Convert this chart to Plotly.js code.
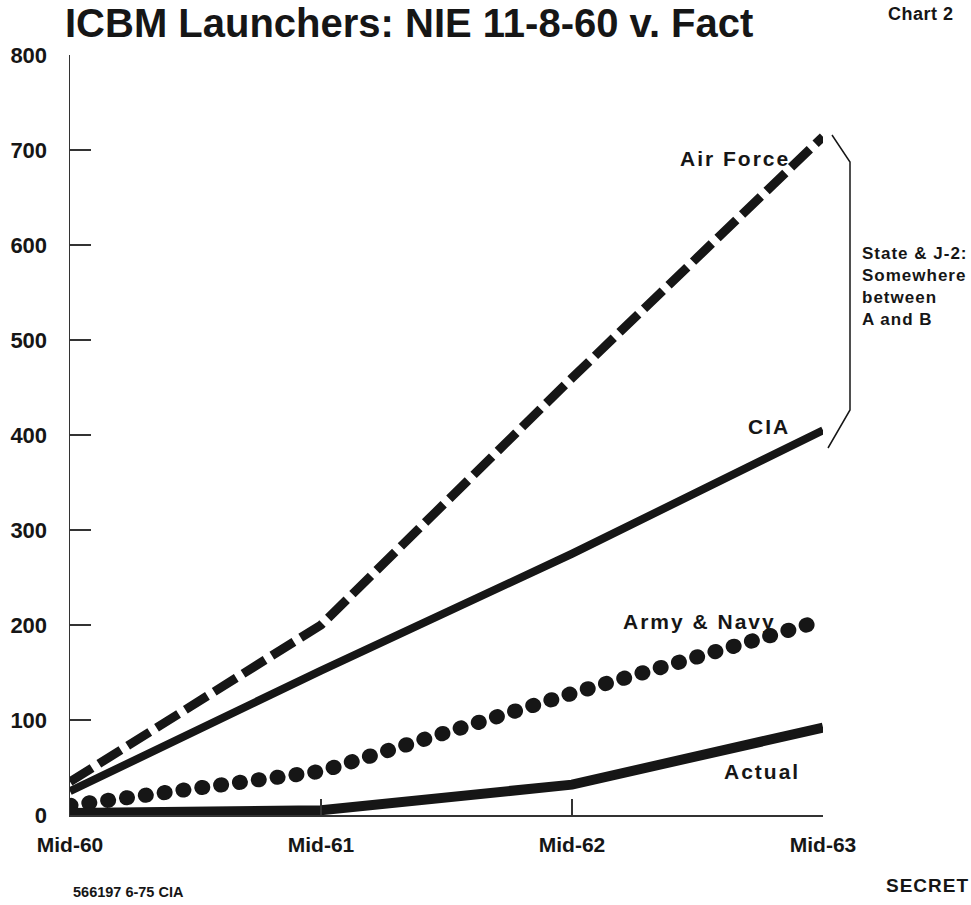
<!DOCTYPE html>
<html>
<head>
<meta charset="utf-8">
<script src="https://cdn.plot.ly/plotly-3.0.1.min.js"></script>
<style>
  html, body { margin: 0; padding: 0; background: #fff; }
  #chart { width: 971px; height: 905px; }
  g.annotation text.annotation-text { letter-spacing: 2px; }
  g.annotation[data-index="4"] text.annotation-text { letter-spacing: 1px; }
  g.annotation[data-index="5"] text.annotation-text { letter-spacing: 0.5px; }
  g.annotation[data-index="6"] text.annotation-text { letter-spacing: 0px; }
  g.annotation[data-index="7"] text.annotation-text { letter-spacing: 1px; }
</style>
</head>
<body>
<div id="chart"></div>
<script>
// ---- data ----
const periods   = ['Mid-60', 'Mid-61', 'Mid-62', 'Mid-63'];
const airForce  = [35, 200, 460, 714];
const cia       = [25, 152, 275, 405];
const armyNavy  = [10, 46, 128, 205];
const actual    = [2, 5, 32, 92];
const yTicks    = [0, 100, 200, 300, 400, 500, 600, 700, 800];

// ---- layout geometry (pixels) ----
const W = 971, H = 905;
const M = { l: 70, r: 148, t: 55, b: 90 };
const PW = W - M.l - M.r, PH = H - M.t - M.b;
const px = x => (x - M.l) / PW;
const py = y => (H - M.b - y) / PH;

const FONT = 'Liberation Sans, Arial, Helvetica, sans-serif';
const INK = '#161616';

const traces = [
  { name: 'Air Force', x: periods, y: airForce, mode: 'lines',
    line: { color: INK, width: 9, dash: '26px,8px' } },
  { name: 'CIA', x: periods, y: cia, mode: 'lines',
    line: { color: INK, width: 8 } },
  { name: 'Army & Navy', x: periods, y: armyNavy, mode: 'lines',
    line: { color: INK, width: 15, dash: '1px,18px' } },
  { name: 'Actual', x: periods, y: actual, mode: 'lines',
    line: { color: INK, width: 10 } }
];

function lbl(text, xPix, yPix, size, extra) {
  return Object.assign({
    text: text, xref: 'paper', yref: 'paper', x: px(xPix), y: py(yPix),
    xanchor: 'left', yanchor: 'middle', showarrow: false, align: 'left',
    font: { family: FONT, size: size, weight: 'bold', color: INK }
  }, extra || {});
}

const annotations = [
  lbl('Air Force', 678, 158, 21),
  lbl('CIA', 746, 426, 21),
  lbl('Army &amp; Navy', 621, 621, 21),
  lbl('Actual', 722, 771, 21),
  lbl('State &amp; J-2:<br>Somewhere<br>between<br>A and B', 860, 286, 17),
  lbl('Chart 2', 886, 14, 18),
  lbl('566197 6-75 CIA', 71, 892, 14.5),
  lbl('SECRET', 884, 886, 19)
];

const bracePts = [[832, 135], [850, 162], [850, 410], [828, 448]];
const bracePath = bracePts.map((p, i) => (i ? 'L' : 'M') + px(p[0]) + ',' + py(p[1])).join(' ');

const layout = {
  width: W, height: H,
  margin: M,
  paper_bgcolor: '#fff', plot_bgcolor: '#fff',
  showlegend: false,
  title: {
    text: 'ICBM Launchers: NIE 11-8-60 v. Fact',
    font: { family: FONT, size: 40, weight: 'bold', color: INK },
    xref: 'container', x: 65 / W, xanchor: 'left',
    yref: 'container', y: 1 - 23 / H, yanchor: 'middle'
  },
  xaxis: {
    type: 'category', range: [0, 3],
    showgrid: false, zeroline: false,
    showline: true, linecolor: '#333', linewidth: 1.5,
    ticks: 'inside', ticklen: 16, tickwidth: 1.5, tickcolor: '#333',
    ticklabelstandoff: 10,
    tickfont: { family: FONT, size: 21, weight: 'bold', color: INK },
    fixedrange: true
  },
  yaxis: {
    range: [0, 800], tickvals: yTicks,
    showgrid: false, zeroline: false,
    showline: true, linecolor: '#333', linewidth: 1.5,
    ticks: 'inside', ticklen: 21, tickwidth: 1.5, tickcolor: '#333',
    ticklabelstandoff: 17,
    tickfont: { family: FONT, size: 22, weight: 'bold', color: INK },
    fixedrange: true
  },
  annotations: annotations,
  shapes: [{
    type: 'path', xref: 'paper', yref: 'paper', path: bracePath,
    line: { color: INK, width: 1.5 }
  }]
};

Plotly.newPlot('chart', traces, layout, { displayModeBar: false, staticPlot: true }).then(function () {
  const tr = document.querySelectorAll('.scatterlayer .trace');
  if (tr[2]) {
    const p = tr[2].querySelector('path.js-line');
    if (p) p.style.strokeLinecap = 'round';
  }
});
</script>
</body>
</html>
